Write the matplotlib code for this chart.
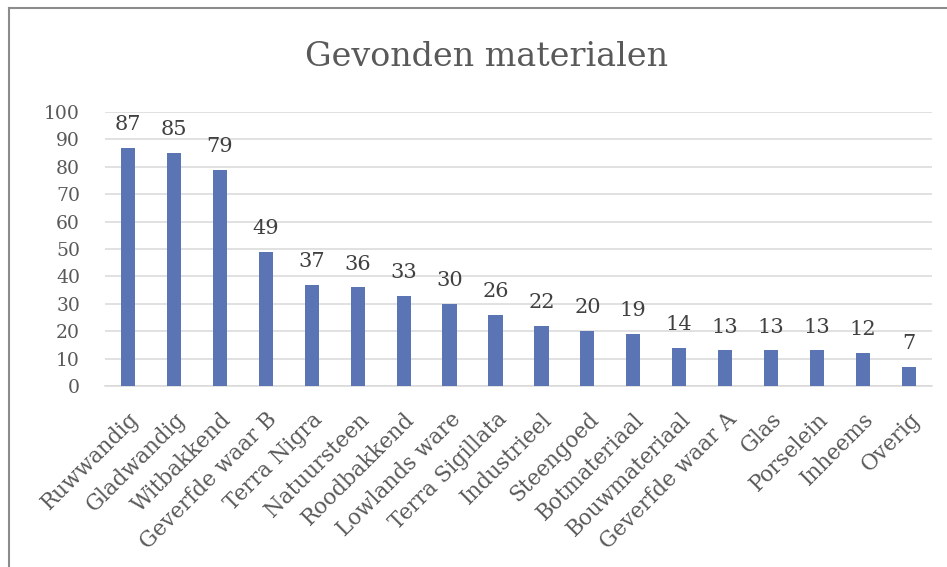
import matplotlib
matplotlib.use("Agg")
import matplotlib.pyplot as plt
from matplotlib.lines import Line2D

# data
categories = ["Ruwwandig", "Gladwandig", "Witbakkend", "Geverfde waar B", "Terra Nigra",
              "Natuursteen", "Roodbakkend", "Lowlands ware", "Terra Sigillata", "Industrieel",
              "Steengoed", "Botmateriaal", "Bouwmateriaal", "Geverfde waar A", "Glas",
              "Porselein", "Inheems", "Overig"]
counts = [87, 85, 79, 49, 37, 36, 33, 30, 26, 22, 20, 19, 14, 13, 13, 13, 12, 7]
y_ticks = [0, 10, 20, 30, 40, 50, 60, 70, 80, 90, 100]

plt.rcParams['font.family'] = ['DejaVu Serif']

fig = plt.figure(figsize=(9.47, 5.67), dpi=100)
ax = fig.add_axes([0.111, 0.319, 0.873, 0.4835])

x = list(range(len(categories)))
bars = ax.bar(x, counts, width=0.31, color="#5B74B4", zorder=3)

# value labels above the bars
for xi, v in zip(x, counts):
    ax.annotate(str(v), (xi, v), xytext=(0, 10), textcoords="offset points",
                ha="center", va="bottom", fontsize=15, color="#404040")

ax.set_xlim(-0.5, len(categories) - 0.5)
ax.set_ylim(0, 100)
ax.set_yticks(y_ticks)
ax.yaxis.grid(True, color="#D9D9D9", linewidth=1.1, zorder=0)
ax.set_axisbelow(True)
for s in ["top", "right", "left"]:
    ax.spines[s].set_visible(False)
ax.spines["bottom"].set_color("#D9D9D9")
ax.spines["bottom"].set_linewidth(1.1)
ax.tick_params(axis="both", length=0, colors="#595959", labelsize=13.5)
ax.tick_params(axis="y", pad=18)
ax.set_xticks(x)
ax.set_xticklabels(categories, rotation=45, ha="right", va="top",
                   rotation_mode="anchor", fontsize=15.5)
ax.tick_params(axis="x", pad=16)

fig.text(0.514, 0.899, "Gevonden materialen", ha="center", va="center",
         fontsize=24, color="#595959")

# chart border (cropped at right/bottom)
fig.add_artist(Line2D([0.0095, 0.0095], [0, 0.986], color="#8C8C8C", linewidth=1.5))
fig.add_artist(Line2D([0.0095, 1], [0.986, 0.986], color="#8C8C8C", linewidth=1.5))

fig.savefig("out.png", dpi=100)
